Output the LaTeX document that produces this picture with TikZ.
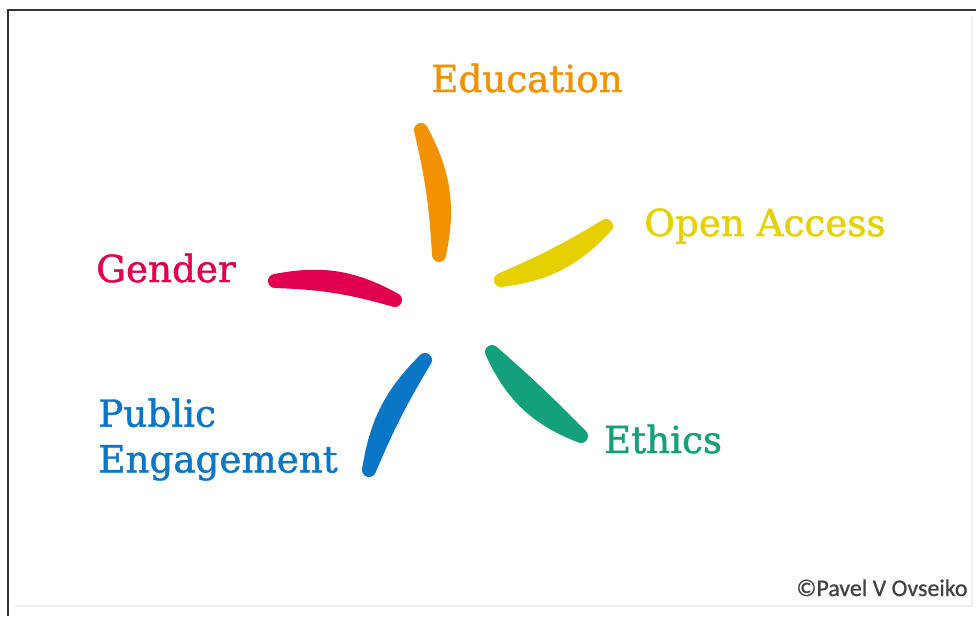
\documentclass[tikz,border=0pt]{standalone}
\usepackage{fontspec}
\setmainfont{DejaVu Serif}[FakeBold=1.2]
\newfontfamily\creditfont{Carlito}[FakeBold=0.6]
\usepackage{xcolor}
\usetikzlibrary{positioning}

\definecolor{eduorange}{HTML}{F39200}
\definecolor{oayellow}{HTML}{E6D000}
\definecolor{gendred}{HTML}{E1004F}
\definecolor{pubblue}{HTML}{0A77C6}
\definecolor{ethgreen}{HTML}{14A07A}

\begin{document}
\begin{tikzpicture}[
    x=0.02cm, y=-0.02cm,
    petal/.style={line width=0.28cm, line join=round},
    theme/.style={font=\fontsize{21.2}{26}\selectfont, inner sep=0pt},
    credit/.style={font=\creditfont\fontsize{13.6}{16}\selectfont, text=black!75, inner sep=0pt}
]
\useasboundingbox (0,0) rectangle (976,616);
\fill[white] (0,0) rectangle (976,616);

% Frame
\draw[black!80, line width=0.04cm] (976,10) -- (8,10) -- (8,616);
\draw[black!6, line width=0.03cm] (972,16) -- (972,606) -- (14,606);

% Petals
\filldraw[petal, eduorange] (421,130) to[bend left=20] (439,255) to[bend right=5] (421,130) -- cycle;
\filldraw[petal, oayellow] (606,226) to[bend left=20] (501,280) to[bend right=4] (606,226) -- cycle;
\filldraw[petal, gendred] (275,281) to[bend left=20] (395,300) to[bend right=7] (275,281) -- cycle;
\filldraw[petal, pubblue] (369,470) to[bend left=18] (425,360) to[bend right=4] (369,470) -- cycle;
\filldraw[petal, ethgreen] (581,436) to[bend left=22] (492,352) to[bend left=2] (581,436) -- cycle;

% Labels
\node[theme, text=eduorange, anchor=base] (education) at (527,92) {Education};
\node[theme, text=oayellow, anchor=base] (openaccess) at (765,236) {Open Access};
\node[theme, text=gendred, anchor=base] (gender) at (166,282) {Gender};
\node[theme, text=pubblue, align=left, anchor=north west] (public) at (98,398) {Public\\Engagement};
\node[theme, text=ethgreen, anchor=base] (ethics) at (663,453) {Ethics};

% Credit
\node[credit, anchor=base] (author) at (882,596) {©Pavel V Ovseiko};

\end{tikzpicture}
\end{document}
